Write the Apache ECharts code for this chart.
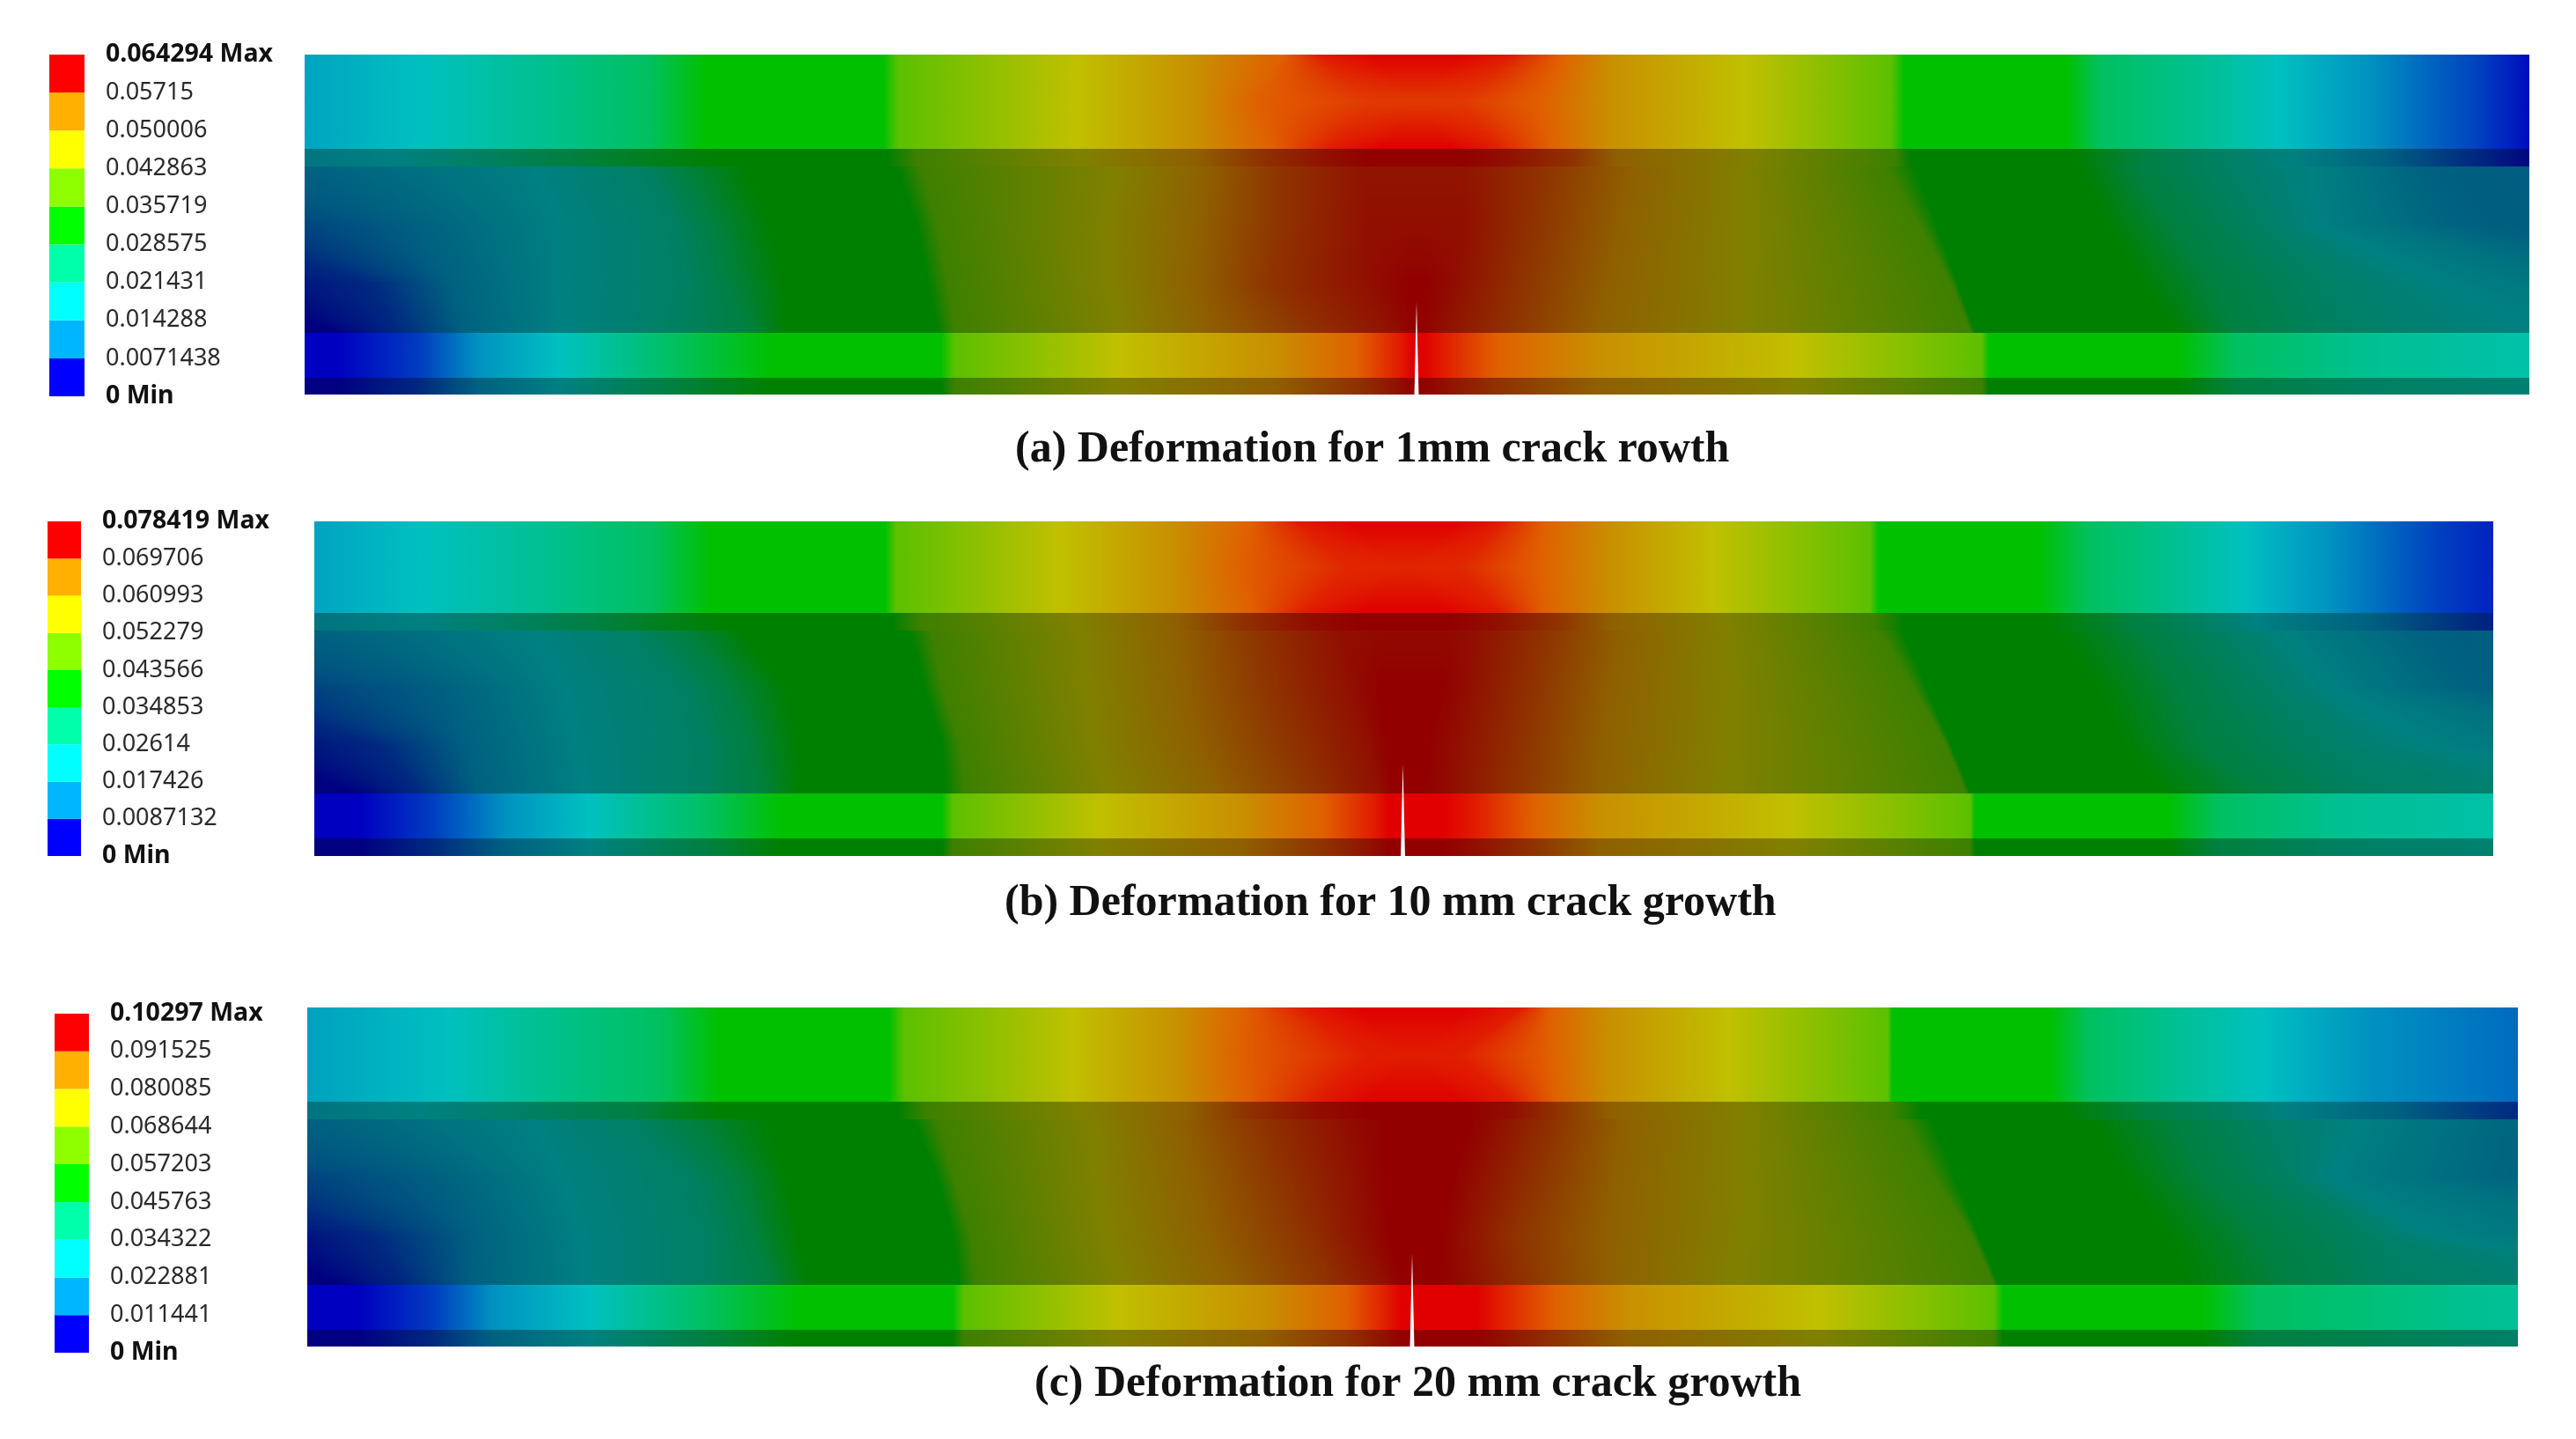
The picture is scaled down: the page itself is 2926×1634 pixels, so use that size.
<!DOCTYPE html>
<html><head><meta charset="utf-8">
<style>html,body{margin:0;background:#fff}#c{width:2926px;height:1634px;filter:blur(0.7px)}</style>
<script src="https://cdn.jsdelivr.net/npm/echarts@6/dist/echarts.min.js"></script>
</head><body><div id="c"></div>
<script>
// Contour levels, as a fraction of each panel's Max deformation, met walking along the beam
const LEVELS=[0,.08,.19,.25,.31,.375,.5,.5,.62,.75,.82,.9,.97,1,1,.97,.9,.82,.75,.62,.5,.5,.375,.31,.25,.19,.08,0];

// Panel (a): position along the beam (% of length) of each contour level, per row of the model
const a_top=[-27,-18,-3,5.2,10.5,15.5,18,26,26.7,34.7,40,44,45.5,48,52,54.4,56.5,58.7,64.7,71.3,71.9,79.2,80.7,85.2,88.8,92.8,97.9,100.5];
const a_mid=[-27,-18,-3,5.2,10.5,15.5,18,26,26.7,34.7,40,42.8,48,49.9,50.1,52,55.6,58.7,64.7,71.3,71.9,79.2,80.7,85.2,88.8,92.8,97.9,100.5];
const a_low=[-27,-18,-3,5.2,10.5,15.5,18,26,26.7,34.7,40,43.5,46,48.5,51.5,53.6,56,58.7,64.7,71.3,71.9,79.2,80.7,85.2,88.8,92.8,97.9,100.5];
const a_strip=[-40,-25,-8,4,8,12,18.6,26.2,27.5,35,40,43,46,48,52,54,57,59,65,71.5,72.2,79.6,82.5,86,89.5,93.5,97.5,100.5];
const a_web0=[-40,-25,0,10.3,15.3,17,19.9,26.6,27.7,36.5,40.5,44,47.6,49.9,50.1,52.1,55.6,59.7,64.7,71.1,72.4,79.7,82.2,86,90.3,95.3,140,170];
const a_web1=[-15,-5,5,11.5,16.6,18.4,20.9,27.5,28.4,36,40.2,44,47.8,49.9,50.1,52.1,55.2,59.2,64.7,72.6,73.35,80.9,84,87.8,90.5,97,150,170];
const a_web2=[-4,3,6.5,11.5,17.1,19.1,21.6,28,28.9,36.2,40,43.5,47.8,49.6,50.4,51.9,54.6,58.7,64.7,74,74.3,82.5,85.8,90.3,96,110,150,170];
const a_web3=[1.5,4.3,7.2,11.5,16.6,20,21.6,28.5,29.2,36.7,40.5,45.3,49.1,49.9,50.2,51.1,54.1,58.2,64.7,74.9,75.1,84.2,86.7,91.5,100,130,150,170];
const a_flange=[1.5,5.2,7.8,11.5,14,16.6,21,28.6,29.2,36.5,43.5,47.3,49.2,49.8,50.3,51.2,53.6,58.2,67.1,75.4,75.7,84.2,86.8,92.8,107,130,150,170];
// Panel (b)
const b_top=[-27,-18,-3,4.9,10.5,15.5,18.2,26.2,26.7,34.2,39.4,43,45,47.5,52.5,54.5,56.5,59.5,64.2,71.4,71.8,79.1,81.4,85.3,88.6,92.5,97.7,103];
const b_mid=[-27,-18,-3,4.9,10.5,15.5,18.2,26.2,26.7,34.2,39.4,42.5,47.5,49.9,50.1,52.5,56.2,59.5,64.2,71.4,71.8,79.1,81.4,85.3,88.6,92.5,97.7,103];
const b_low=[-27,-18,-3,4.9,10.5,15.5,18.2,26.2,26.7,34.2,39.4,43,45.5,48,52,54.5,56.5,59.5,64.2,71.4,71.8,79.1,81.4,85.3,88.6,92.5,97.7,103];
const b_strip=[-40,-25,-8,5,9,13,18.6,26.5,27.8,35,39.5,42.5,45.5,48,52,54.3,57,59.5,64.8,71.6,72.9,79.4,83.5,86.6,89.2,94.3,99,104];
const b_web0=[-40,-25,0,10.1,14.7,17,19.6,27.3,28.3,35.3,39.6,43.5,47.1,48.9,52,53.3,56.4,60,64.9,71.9,72.9,79.9,83.8,87.4,90.5,96.9,150,170];
const b_web1=[-15,-5,6,11.4,17,19.1,21.7,28,28.8,35.5,39.9,44,47.6,48.9,51.8,53,55.9,59.5,65,73.4,74,81.7,85.5,89.4,92.5,99,150,170];
const b_web2=[-4,3,7,12,17.8,20,22.2,28.8,29.6,35.8,40.4,45,48.4,49.2,51,52.5,55.4,59.2,64.9,74.9,75.1,83,86.6,91.7,97,112,150,170];
const b_web3=[2,4.8,7.5,12.3,17.6,20.4,22.3,29,29.9,36.5,41.5,46,48.9,49.6,51,52.3,55.1,59,64.6,75.8,76,84.8,89.2,94.3,108,130,150,170];
const b_flange=[2.1,5.4,8.8,12.6,15.2,18.1,21.5,28.8,29.3,36,42.5,46.3,48.6,49.3,51.8,53.3,55.9,59,67.8,76,76.2,85,87.4,93,108,130,150,170];
// Panel (c)
const c_top=[-27,-18,-3,6.4,10.5,16,18.6,26.3,27,34.6,39.4,42.5,45,47.5,52.5,55,56.2,58.9,64.3,71.5,71.7,78.8,80.6,84.4,88.4,93.3,108,115];
const c_mid=[-27,-18,-3,6.4,10.5,16,18.6,26.3,27,34.6,39.4,42.2,48,49.9,50.1,52,56.2,58.9,64.3,71.5,71.7,78.8,80.6,84.4,88.4,93.3,108,115];
const c_low=[-27,-18,-3,6.4,10.5,16,18.6,26.3,27,34.6,39.4,42.5,45.5,48,52,54.6,56.4,58.9,64.3,71.5,71.7,78.8,80.6,84.4,88.4,93.3,108,115];
const c_strip=[-40,-25,-8,5,10,15,18.6,26.7,28,35,39.8,42.5,45.5,48,52.5,54.5,56.5,59,65,71.7,73,79.3,83.1,86.9,89.5,94.5,100,105];
const c_web0=[-40,-25,0,10.2,14.8,17.3,20.9,27.4,28.5,35.6,39.4,43.2,46.8,48.8,52.6,53.9,56.4,59.5,65,72.2,73.5,80.6,84.4,88.2,92.8,101,150,170];
const c_web1=[-15,-5,6,11.5,17.3,19.4,21.7,28.5,29.2,35.8,40.1,44.2,47.5,48.8,51.8,52.9,55.6,59.2,65,73.6,74.55,82.1,85.7,89.5,91.5,100.5,150,170];
const c_web2=[-3,3,7.5,12.3,18.1,20.2,22.2,29.2,30,36.1,40.7,45.2,47.8,49,51.3,52.3,54.6,58.9,64.8,75.3,75.6,84.1,88.2,93.3,96,115,150,170];
const c_web3=[1.5,4.5,7.5,12.5,18,21,22.7,29.5,30.2,36.8,41.7,46.2,48.8,49.5,51.3,52.6,55.1,58.9,64.5,76.3,76.5,85.1,89.5,94.5,110,130,150,170];
const c_flange=[2.3,5.7,8.4,12.8,15.3,18.1,22.2,29.2,29.7,36.6,43.2,47,48.8,49.5,52.9,53.9,56.4,59.7,68.4,76.3,76.7,85.7,88.2,98.4,112,130,150,170];

// Peak level reached at mid-span on the top-face mid row and on the four web rows
const a_peaks=[.94,.96,.97,1,1], b_peaks=[.96,.98,1,1,1], c_peaks=[.97,1,1,1,1];
// Face boundaries, % of model height
const a_edges=[0,27.7,32.9,81.9,95.1,100], b_edges=[0,27.4,32.6,81.3,94.7,100], c_edges=[0,27.8,33,81.8,95.1,100];
// Crack: position along the beam, tip height
const a_crack=[49.98,72.8], b_crack=[49.96,72.4], c_crack=[49.98,72.5];

// Legend tick labels, bottom to top
const a_ticks=['0 Min','0.0071438','0.014288','0.021431','0.028575','0.035719','0.042863','0.050006','0.05715','0.064294 Max'];
const b_ticks=['0 Min','0.0087132','0.017426','0.02614','0.034853','0.043566','0.052279','0.060993','0.069706','0.078419 Max'];
const c_ticks=['0 Min','0.011441','0.022881','0.034322','0.045763','0.057203','0.068644','0.080085','0.091525','0.10297 Max'];
const legendColors=['#0000ff','#00b7ff','#00ffff','#00ffaa','#00ff00','#8fff00','#ffff00','#ffb000','#ff0000'];
const captions=['(a) Deformation for 1mm crack rowth','(b) Deformation for 10 mm crack growth','(c) Deformation for 20 mm crack growth'];

// Layout
const layout=[
 {left:346,right:2873,top:62,bottom:448,barL:56,barW:40,legT:62,legB:450,capL:1153,capT:486},
 {left:357,right:2832,top:592,bottom:972,barL:54,barW:38,legT:592,legB:972,capL:1141,capT:1001},
 {left:349,right:2860,top:1144,bottom:1529,barL:62,barW:39,legT:1151,legB:1536,capL:1175,capT:1547}
];
const panels=[
 {top:a_top,mid:a_mid,low:a_low,strip:a_strip,web:[a_web0,a_web1,a_web2,a_web3],flange:a_flange,peaks:a_peaks,edges:a_edges,crack:a_crack,ticks:a_ticks},
 {top:b_top,mid:b_mid,low:b_low,strip:b_strip,web:[b_web0,b_web1,b_web2,b_web3],flange:b_flange,peaks:b_peaks,edges:b_edges,crack:b_crack,ticks:b_ticks},
 {top:c_top,mid:c_mid,low:c_low,strip:c_strip,web:[c_web0,c_web1,c_web2,c_web3],flange:c_flange,peaks:c_peaks,edges:c_edges,crack:c_crack,ticks:c_ticks}
];

const T=[0,.25,.5,.75,.82,.9,1];
const LIT=[[0,0,192],[0,192,192],[0,192,0],[192,192,0],[200,144,0],[224,96,0],[224,0,0]];
const DIM=[[0,0,128],[0,128,128],[0,128,0],[128,128,0],[143,96,0],[143,50,0],[146,0,0]];
function shade(t,pal){
  let i=0;while(i<T.length-2&&t>T[i+1])i++;
  const f=Math.min(1,Math.max(0,(t-T[i])/(T[i+1]-T[i])));
  const c=pal[i].map((v,k)=>Math.round(v+(pal[i+1][k]-v)*f));
  return 'rgb('+c.join(',')+')';
}
function knots(xs,peak){return xs.map((x,i)=>[x,Math.min(LEVELS[i],peak)]);}
function stopsOf(K,pal){
  const out=[];
  const at=x=>{ if(x<=K[0][0])return K[0][1];
    for(let i=1;i<K.length;i++) if(x<=K[i][0]){const d=K[i][0]-K[i-1][0];return d<=0?K[i][1]:K[i-1][1]+(K[i][1]-K[i-1][1])*(x-K[i-1][0])/d;}
    return K[K.length-1][1];};
  out.push({offset:0,color:shade(at(0),pal)});
  K.forEach(k=>{if(k[0]>0&&k[0]<100)out.push({offset:k[0]/100,color:shade(k[1],pal)});});
  out.push({offset:1,color:shade(at(100),pal)});
  return out;
}
function blend(A,B,f){return A.map((k,i)=>[k[0]+(B[i][0]-k[0])*f,k[1]+(B[i][1]-k[1])*f]);}

function stripsOf(p){
  const E=p.edges,S=[];
  const run=(rows,pal)=>{
    for(let r=0;r<rows.length-1;r++){
      const A=rows[r],B=rows[r+1],n=Math.max(1,Math.ceil((B.y-A.y)*1.6));
      for(let k=0;k<n;k++){
        S.push({y0:A.y+(B.y-A.y)*k/n,y1:A.y+(B.y-A.y)*(k+1)/n,stops:stopsOf(blend(A.k,B.k,(k+.5)/n),pal)});
      }
    }
  };
  const flat=(xs,y0,y1,pal)=>S.push({y0,y1,stops:stopsOf(knots(xs,1),pal)});
  run([{y:E[0],k:knots(p.top,1)},{y:E[1]/2,k:knots(p.mid,p.peaks[0])},{y:E[1],k:knots(p.low,1)}],LIT);
  flat(p.strip,E[1],E[2],DIM);
  const wy=[0,.35,.7,1].map(f=>E[2]+(E[3]-E[2])*f);
  run(p.web.map((w,i)=>({y:wy[i],k:knots(w,p.peaks[i+1])})),DIM);
  flat(p.flange,E[3],E[4],LIT);
  flat(p.flange,E[4],E[5],DIM);
  return S;
}

const grid=[],xAxis=[],yAxis=[],series=[],title=[];
panels.forEach((p,i)=>{
  const L=layout[i],strips=stripsOf(p),gf=grid.length;
  grid.push({left:L.left,top:L.top,width:L.right-L.left,height:L.bottom-L.top,containLabel:false});
  xAxis.push({type:'value',gridIndex:gf,min:0,max:100,show:false});
  yAxis.push({type:'value',gridIndex:gf,min:0,max:100,inverse:true,show:false});
  series.push({type:'custom',xAxisIndex:gf,yAxisIndex:gf,silent:true,clip:true,animation:false,
    data:strips.map(s=>[0,100,s.y0,s.y1]),
    renderItem:(params,api)=>{
      const s=strips[params.dataIndex],a=api.coord([api.value(0),api.value(2)]),b=api.coord([api.value(1),api.value(3)]);
      const y0=Math.round(a[1]),y1=Math.round(b[1]);
      return {type:'rect',shape:{x:a[0],y:y0,width:b[0]-a[0],height:y1-y0},
        style:{fill:new echarts.graphic.LinearGradient(0,0,1,0,s.stops)}};
    }});
  series.push({type:'custom',xAxisIndex:gf,yAxisIndex:gf,silent:true,clip:false,animation:false,z:5,
    data:[p.crack],
    renderItem:(params,api)=>{
      const xc=api.value(0),tip=api.value(1),w=.1;
      return {type:'polygon',shape:{points:[api.coord([xc-w,100.5]),api.coord([xc,tip]),api.coord([xc+w,100.5])]},style:{fill:'#ffffff'}};
    }});
  const gl=grid.length;
  grid.push({left:L.barL,top:L.legT,width:L.barW,height:L.legB-L.legT});
  xAxis.push({type:'value',gridIndex:gl,min:0,max:1,show:false});
  yAxis.push({type:'value',gridIndex:gl,min:0,max:9,interval:1,position:'right',
    axisLine:{show:false},axisTick:{show:false},splitLine:{show:false},
    axisLabel:{show:true,margin:24,showMinLabel:true,showMaxLabel:true,hideOverlap:false,align:'left',
      fontFamily:'Noto Sans',fontSize:27,color:'#2a2a2a',
      formatter:v=>{const t=p.ticks[Math.round(v)];return (v===0||v===9)?'{b|'+t+'}':t;},
      rich:{b:{fontFamily:'Noto Sans',fontSize:28.5,fontWeight:'bold',color:'#111'}}}});
  series.push({type:'custom',xAxisIndex:gl,yAxisIndex:gl,silent:true,animation:false,
    data:legendColors.map((c,k)=>[0,1,k,k+1]),
    renderItem:(params,api)=>{
      const a=api.coord([api.value(0),api.value(3)]),b=api.coord([api.value(1),api.value(2)]);
      return {type:'rect',shape:{x:a[0],y:a[1],width:b[0]-a[0],height:b[1]-a[1]},style:{fill:legendColors[params.dataIndex]}};
    }});
  title.push({text:captions[i],left:L.capL,top:L.capT,padding:0,
    textStyle:{fontFamily:'Liberation Serif',fontSize:50,fontWeight:'bold',color:'#111'}});
});
const chart=echarts.init(document.getElementById('c'),null,{renderer:'canvas'});
chart.setOption({animation:false,backgroundColor:'#fff',title,grid,xAxis,yAxis,series});
</script></body></html>
